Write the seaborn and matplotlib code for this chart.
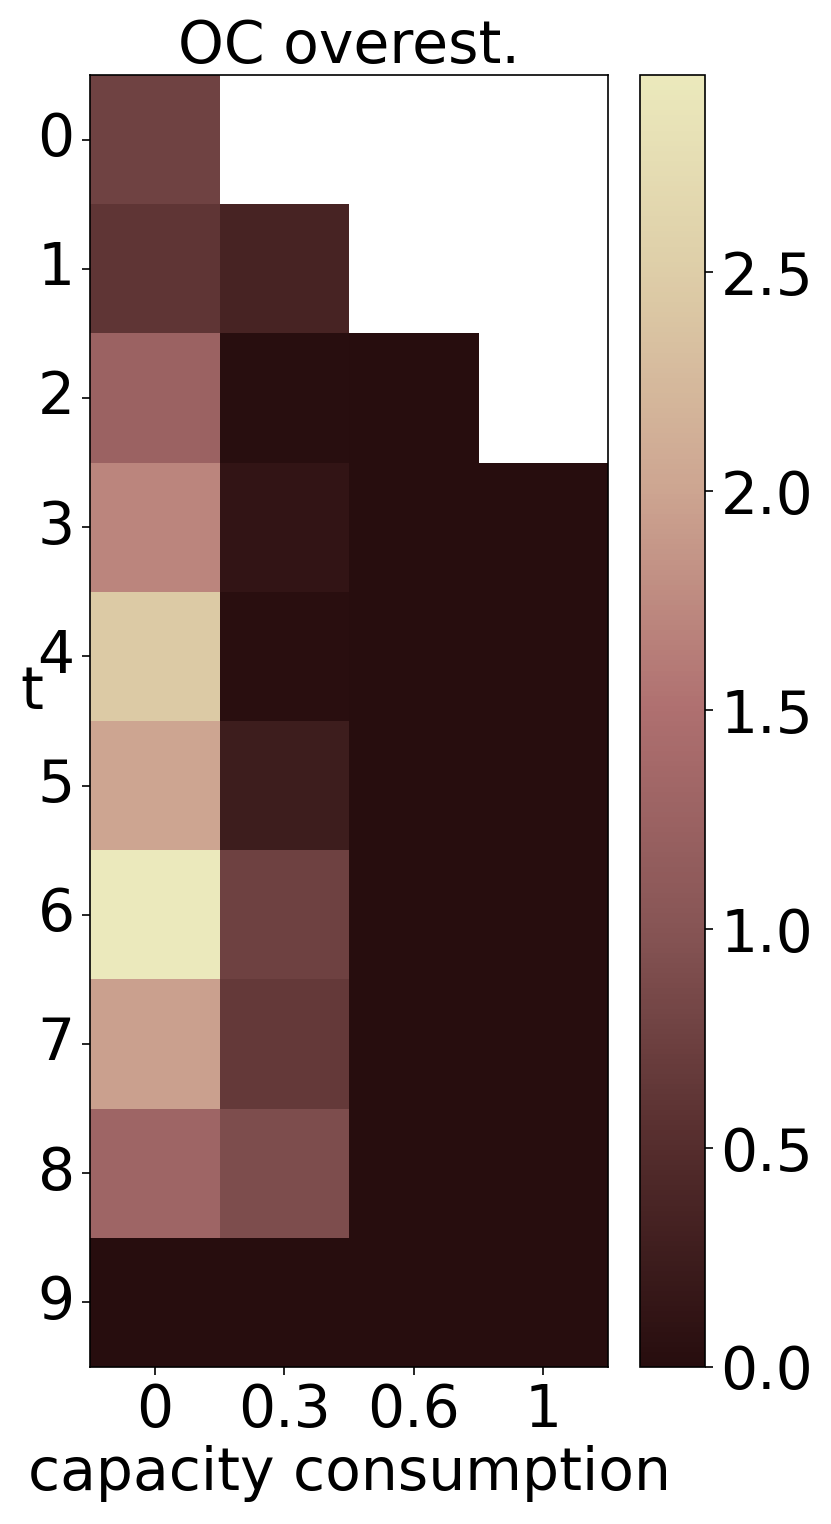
import numpy as np
import pandas as pd
import seaborn as sns
import matplotlib.pyplot as plt
from matplotlib.colors import LinearSegmentedColormap

# axis categories
t_steps = [0, 1, 2, 3, 4, 5, 6, 7, 8, 9]
capacity = ["0", "0.3", "0.6", "1"]

# overestimation per capacity column (NaN = not reachable)
col_0 = [0.77, 0.60, 1.25, 1.70, 2.45, 2.00, 2.95, 1.95, 1.30, 0.0]
col_03 = [np.nan, 0.35, 0.02, 0.12, 0.03, 0.25, 0.75, 0.65, 0.90, 0.0]
col_06 = [np.nan, np.nan, 0.0, 0.0, 0.0, 0.0, 0.0, 0.0, 0.0, 0.0]
col_1 = [np.nan, np.nan, np.nan, 0.0, 0.0, 0.0, 0.0, 0.0, 0.0, 0.0]

df = pd.DataFrame({"0": col_0, "0.3": col_03, "0.6": col_06, "1": col_1}, index=t_steps)

# dark brown -> pink -> pale yellow
cmap = LinearSegmentedColormap.from_list("oc", [
    (0.00, "#270d0e"),
    (0.17, "#552d2d"),
    (0.34, "#875555"),
    (0.51, "#af7070"),
    (0.68, "#cda591"),
    (0.85, "#decea8"),
    (1.00, "#ebe9bc"),
])

fig = plt.figure(figsize=(8.31, 15.24), dpi=100)
ax = fig.add_axes([90 / 831, 1 - 1367 / 1524, 518 / 831, 1292 / 1524])
cax = fig.add_axes([640 / 831, 1 - 1367 / 1524, 65 / 831, 1292 / 1524])

sns.heatmap(df, ax=ax, cbar_ax=cax, cmap=cmap, vmin=0, vmax=max(col_0))

fs = 42
ax.set_title("OC overest.", fontsize=fs, pad=8)
ax.set_xlabel("capacity consumption", fontsize=fs, labelpad=4)
ax.set_ylabel("t", fontsize=fs, rotation=0)
ax.set_xticklabels(capacity, fontsize=fs, rotation=0)
ax.set_yticklabels([str(t) for t in t_steps], fontsize=fs, rotation=0)
ax.tick_params(length=6, width=1.2, pad=5)
for s in ax.spines.values():
    s.set_visible(True)
    s.set_linewidth(1.2)
    s.set_color("black")

cb = ax.collections[0].colorbar
cb.outline.set_linewidth(1.2)
cb.outline.set_edgecolor("black")
cb.set_ticks([0.0, 0.5, 1.0, 1.5, 2.0, 2.5])
cb.set_ticklabels(["0.0", "0.5", "1.0", "1.5", "2.0", "2.5"])
cax.tick_params(labelsize=fs, length=6, width=1.2, pad=5)

fig.savefig("out.png", dpi=100)
